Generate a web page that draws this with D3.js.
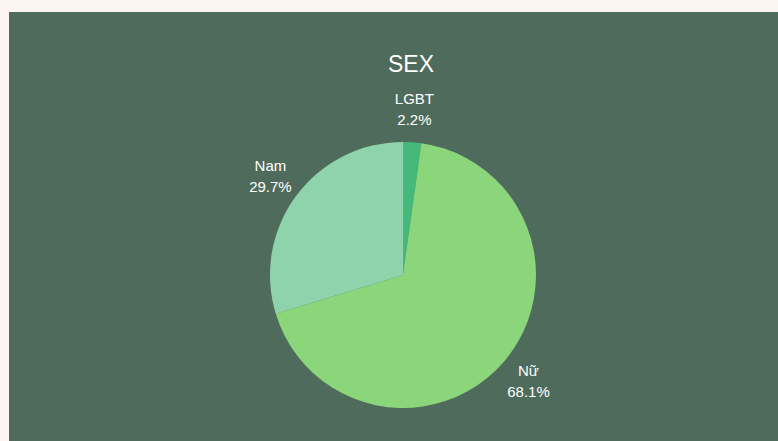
<!DOCTYPE html>
<html>
<head>
<meta charset="utf-8">
<script src="https://cdn.jsdelivr.net/npm/d3@7"></script>
<style>
    html, body { margin: 0; padding: 0; background: #fdf5f0; }
    svg { display: block; font-family: "Liberation Sans", Arial, sans-serif; }
</style>
</head>
<body>
<svg id="drawing_region"></svg>
<script>
// data
const categories = ['LGBT', 'Nữ', 'Nam'];
const percents = [2.2, 68.1, 29.7];
const colors = ['#45b97c', '#8bd67a', '#8fd3ad'];
const title = 'SEX';

const width = 778, height = 441;
const cx = 403, cy = 275, radius = 133, label_radius = 165;

const data = categories.map((c, i) => ({ name: c, value: percents[i], color: colors[i] }));

const svg = d3.select('#drawing_region')
    .attr('width', width)
    .attr('height', height);

svg.append('rect')
    .attr('x', 9)
    .attr('y', 12)
    .attr('width', width - 9)
    .attr('height', height - 12)
    .attr('fill', '#4f6b5b');

svg.append('text')
    .attr('x', 411)
    .attr('y', 72)
    .attr('fill', 'white')
    .attr('text-anchor', 'middle')
    .attr('font-size', '23px')
    .text(title);

const pie = d3.pie()
    .value(d => d.value)
    .sort(null);

const arc = d3.arc()
    .innerRadius(0)
    .outerRadius(radius);

const label_arc = d3.arc()
    .innerRadius(label_radius)
    .outerRadius(label_radius);

const chart = svg.append('g')
    .attr('transform', `translate(${cx}, ${cy})`);

const arcs = pie(data);

chart.selectAll('path')
    .data(arcs)
    .enter()
    .append('path')
    .attr('d', arc)
    .attr('fill', d => d.data.color);

const labels = chart.selectAll('text.label')
    .data(arcs)
    .enter()
    .append('text')
    .attr('class', 'label')
    .attr('transform', d => `translate(${label_arc.centroid(d)})`)
    .attr('fill', 'white')
    .attr('text-anchor', 'middle')
    .attr('font-size', '15px');

labels.append('tspan')
    .attr('x', 0)
    .attr('dy', '-0.4em')
    .text(d => d.data.name);

labels.append('tspan')
    .attr('x', 0)
    .attr('dy', '1.4em')
    .text(d => d.data.value.toFixed(1) + '%');
</script>
</body>
</html>
